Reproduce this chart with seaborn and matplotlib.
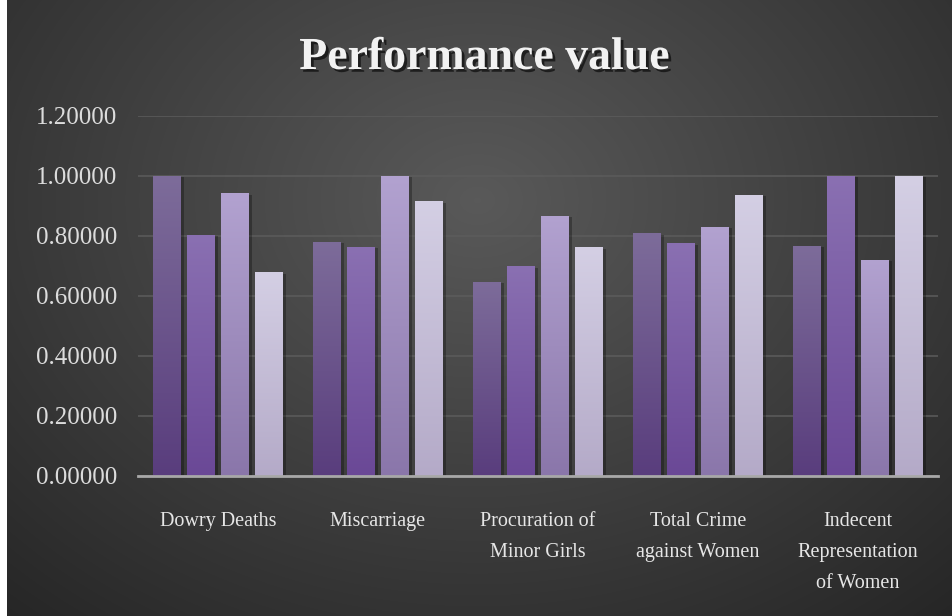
import numpy as np
import pandas as pd
import matplotlib
matplotlib.use("Agg")
import matplotlib.pyplot as plt
import matplotlib.patheffects as pe
from matplotlib.colors import LinearSegmentedColormap, to_rgb
from matplotlib.ticker import FuncFormatter
import seaborn as sns

# ---- data ----
categories = ["Dowry Deaths", "Miscarriage", "Procuration of\nMinor Girls",
              "Total Crime\nagainst Women", "Indecent\nRepresentation\nof Women"]
series_names = ["Series 1", "Series 2", "Series 3", "Series 4"]
series1 = [1.000, 0.781, 0.648, 0.809, 0.768]
series2 = [0.803, 0.763, 0.699, 0.776, 1.000]
series3 = [0.942, 1.000, 0.868, 0.831, 0.721]
series4 = [0.679, 0.916, 0.762, 0.938, 1.000]
y_ticks = [0.0, 0.2, 0.4, 0.6, 0.8, 1.0, 1.2]

bar_top = ["#7d6c9a", "#8a70b2", "#b2a2d0", "#d4cfe4"]
bar_bottom = ["#593d7d", "#6a4896", "#8a76aa", "#b4aac8"]
bar_mid = ["#6a5490", "#7a5ca6", "#9e8cbd", "#c4bcd6"]

rows = []
for s, vals in zip(series_names, [series1, series2, series3, series4]):
    for c, v in zip(categories, vals):
        rows.append({"category": c, "series": s, "value": v})
df = pd.DataFrame(rows)

sns.set_theme(style="dark")
plt.rcParams["font.family"] = ["Liberation Serif", "DejaVu Serif"]

W, H = 953, 616
fig = plt.figure(figsize=(W / 100, H / 100), dpi=100, facecolor="white")

# background radial gradient
bg = fig.add_axes([7 / W, 0, 1 - 7 / W, 1], zorder=-10)
yy, xx = np.mgrid[0:H, 0:W - 7]
d = np.sqrt(((xx - 470) / 640.0) ** 2 + ((yy - 200) / 500.0) ** 2)
val = np.clip(0.35 - 0.18 * d, 0.14, 0.36)
bg.imshow(np.dstack([val, val, val]), aspect="auto", extent=[0, 1, 0, 1])
bg.set_axis_off()

ax = fig.add_axes([138 / W, 1 - 476 / H, 800 / W, 360 / H])
ax.set_facecolor("none")

sns.barplot(data=df, x="category", y="value", hue="series", palette=bar_mid,
            width=0.85, gap=0.18, legend=False, ax=ax, saturation=1)

for i, cont in enumerate(ax.containers):
    cmap = LinearSegmentedColormap.from_list("g", [to_rgb(bar_bottom[i]), to_rgb(bar_top[i])])
    for bar in cont:
        x0, w, h = bar.get_x(), bar.get_width(), bar.get_height()
        bar.set_edgecolor("none")
        bar.set_path_effects([pe.SimplePatchShadow(offset=(2, -1), shadow_rgbFace="black", alpha=0.28),
                              pe.Normal()])
        grad = np.linspace(0, 1, 256).reshape(-1, 1)
        im = ax.imshow(grad, extent=[x0, x0 + w, 0, h], origin="lower", cmap=cmap,
                       aspect="auto", zorder=bar.get_zorder() + 0.1)
        im.set_clip_path(bar)

ax.set_xlim(-0.5, 4.5)
ax.set_ylim(0, 1.2)
ax.set_yticks(y_ticks)
ax.yaxis.set_major_formatter(FuncFormatter(lambda v, p: f"{v:.5f}"))
ax.yaxis.grid(True, color="#5c5c5c", lw=1.1)
ax.xaxis.grid(False)
ax.set_axisbelow(True)
for s in ["left", "right", "top"]:
    ax.spines[s].set_visible(False)
ax.spines["bottom"].set_color("#a8a8a8")
ax.spines["bottom"].set_linewidth(2)
ax.spines["bottom"].set_zorder(5)
ax.tick_params(axis="y", length=0, pad=15, labelsize=18, labelcolor="#dcdcdc")
ax.tick_params(axis="x", length=0, pad=26, labelsize=14.5, labelcolor="#e6e6e6")
for t in ax.get_xticklabels():
    t.set_linespacing(1.85)
    t.set_va("top")
ax.set_xlabel("")
ax.set_ylabel("")

fig.text(485 / W, 1 - 58 / H, "Performance value", ha="center", va="center",
         fontsize=33, fontweight="bold", color="#f2f2f2",
         path_effects=[pe.withSimplePatchShadow(offset=(2, -2), shadow_rgbFace="black", alpha=0.6)])

fig.savefig("out.png", dpi=100, facecolor=fig.get_facecolor())
